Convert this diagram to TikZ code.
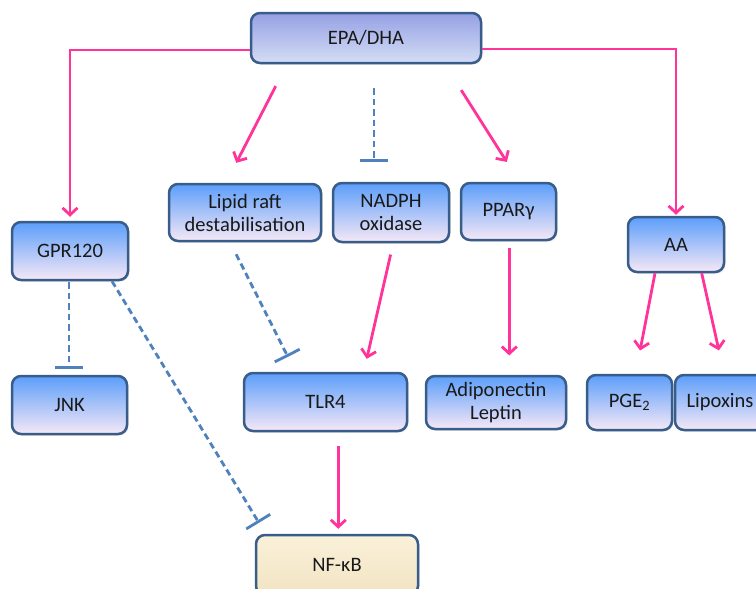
\documentclass[tikz,border=0pt]{standalone}
\usepackage{fontspec}
\setmainfont{Carlito}
\usetikzlibrary{arrows.meta,calc,shadows}
\definecolor{pinkc}{RGB}{255,51,153}
\definecolor{dashc}{RGB}{79,129,189}
\definecolor{bordc}{RGB}{56,93,138}
\definecolor{textc}{RGB}{25,25,25}
\definecolor{bluetop}{RGB}{92,158,250}
\definecolor{bluemid}{RGB}{128,182,250}
\definecolor{bluebot}{RGB}{246,232,246}
\definecolor{epatop}{RGB}{150,160,228}
\definecolor{epamid}{RGB}{196,208,248}
\definecolor{epabot}{RGB}{212,222,245}
\definecolor{nftop}{RGB}{250,241,218}
\definecolor{nfbot}{RGB}{242,228,195}
\begin{document}
\begin{tikzpicture}[x=1pt,y=-1pt,
  basebox/.style={draw=bordc, line width=2.5pt, rounded corners=9pt, text=textc,
    font=\fontsize{20.5}{23}\selectfont, align=center, inner sep=2pt,
    drop shadow={shadow xshift=1.5pt, shadow yshift=-1.5pt, opacity=0.2}},
  bluebox/.style={basebox, top color=bluetop, middle color=bluemid, bottom color=bluebot},
  epabox/.style={basebox, top color=epatop, middle color=epamid, bottom color=epabot},
  nfbox/.style={basebox, top color=nftop, bottom color=nfbot},
  pinkarr/.style={draw=pinkc, line width=2.8pt, -{Straight Barb[length=7pt,width=15pt]}},
  blunt/.style={draw=dashc, line width=2.8pt, dash pattern=on 6.5pt off 4pt, -{Bar[width=28pt]}}
]
\useasboundingbox (0,0) rectangle (756,589);

\node[epabox, minimum width=230pt, minimum height=50pt] (epa) at (366,38) {EPA/DHA};
\node[bluebox, minimum width=116pt, minimum height=58pt] (gpr) at (70,251) {GPR120};
\node[bluebox, minimum width=115pt, minimum height=58pt] (jnk) at (69.5,405) {JNK};
\node[bluebox, minimum width=152pt, minimum height=57pt] (lipid) at (245,212.5) {Lipid raft\\destabilisation};
\node[bluebox, minimum width=116pt, minimum height=59pt] (nadph) at (391,212.5) {NADPH\\oxidase};
\node[bluebox, minimum width=95pt, minimum height=57pt] (ppar) at (508.5,211.5) {PPARγ};
\node[bluebox, minimum width=96pt, minimum height=55pt] (aa) at (676,244.5) {AA};
\node[bluebox, minimum width=163pt, minimum height=58pt] (tlr4) at (325.5,402) {TLR4};
\node[bluebox, minimum width=140pt, minimum height=53pt] (adipo) at (496,402.5) {Adiponectin\\Leptin};
\node[bluebox, minimum width=85pt, minimum height=55pt] (pge) at (629.5,402.5) {PGE\textsubscript{2}};
\node[bluebox, minimum width=90pt, minimum height=55pt] (lipox) at (720,402.5) {Lipoxins};
\node[nfbox, minimum width=162pt, minimum height=60pt] (nfkb) at (337,565) {NF-κB};

\draw[pinkarr, shorten >=4pt] ([yshift=-12pt]epa.west) -| (gpr.north);
\draw[pinkarr, shorten >=1pt] ([yshift=-11pt]epa.east) -| (aa.north);
\draw[pinkarr, shorten <=24.6pt, shorten >=22.4pt] ([xshift=-79pt]epa.south) -- ([xshift=-19pt]lipid.north);
\draw[blunt, shorten <=24pt, shorten >=20pt] ([xshift=8pt]epa.south) -- ([xshift=-17pt]nadph.north);
\draw[pinkarr, shorten <=30.6pt, shorten >=23.5pt] ([xshift=78.8pt]epa.south) -- ([xshift=10.9pt]ppar.north);
\draw[blunt, shorten <=1pt, shorten >=6pt] ([xshift=-1pt]gpr.south) -- ([xshift=-0.5pt]jnk.north);
\draw[blunt, shorten >=12.8pt] ([xshift=42pt]gpr.south) -- ([xshift=-71.4pt]nfkb.north);
\draw[blunt, shorten <=13.4pt, shorten >=16.7pt] ([xshift=-14.9pt]lipid.south) -- ([xshift=-30.1pt]tlr4.north);
\draw[pinkarr, shorten <=11.6pt, shorten >=13.3pt] ([xshift=2.2pt]nadph.south) -- ([xshift=38.3pt]tlr4.north);
\draw[pinkarr, shorten <=7pt, shorten >=19.3pt] ([xshift=0.8pt]ppar.south) -- ([xshift=0.8pt]ppar.south |- adipo.north);
\draw[pinkarr, shorten >=23.7pt] ([xshift=-21pt]aa.south) -- ([xshift=6.1pt]pge.north);
\draw[pinkarr, shorten >=23.9pt] ([xshift=25.7pt]aa.south) -- ([xshift=4.1pt]lipox.north);
\draw[pinkarr, shorten <=14pt, shorten >=5pt] ([xshift=12.8pt]tlr4.south) -- ([xshift=1.3pt]nfkb.north);
\end{tikzpicture}
\end{document}
